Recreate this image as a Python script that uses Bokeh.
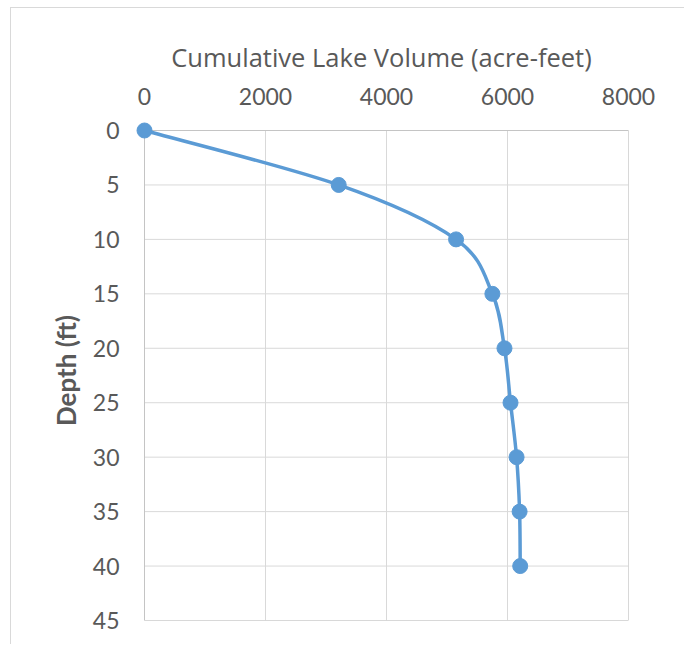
from bokeh.plotting import figure
from bokeh.models import Range1d, FixedTicker
from bokeh.embed import file_html
from bokeh.resources import INLINE

# Cumulative lake volume by depth
depth_ft = [0, 5, 10, 15, 20, 25, 30, 35, 40]
volume_af = [0, 3210, 5150, 5750, 5950, 6050, 6150, 6200, 6210]

x_ticks = [0, 2000, 4000, 6000, 8000]
y_ticks = [0, 5, 10, 15, 20, 25, 30, 35, 40, 45]

TICK_FONT = "Lato"
TITLE_FONT = "Open Sans"
TEXT = "#595959"
GRID = "#d9d9d9"
EDGE = "#c4c4c4"
BLUE = "#5b9bd5"

# The plotting area is 484 x 490 px; a small margin on the left and top lets
# the marker at the origin show in full instead of being cut by the frame.
AREA_W, AREA_H, PAD = 484, 490, 10
x_min, x_max = x_ticks[0], x_ticks[-1]
y_min, y_max = y_ticks[0], y_ticks[-1]
x_pad = (x_max - x_min) * PAD / AREA_W
y_pad = (y_max - y_min) * PAD / AREA_H

p = figure(
    width=674, height=637,
    x_range=Range1d(x_min - x_pad, x_max), y_range=Range1d(y_max, y_min - y_pad),
    x_axis_location="above",
    output_backend="svg", toolbar_location=None,
    min_border_left=133 - PAD, min_border_top=122 - PAD,
    min_border_right=57, min_border_bottom=25,
    margin=(7, 0, 0, 10),
)
p.styles = {"border-top": "1px solid #d9d9d9", "border-left": "1px solid #d9d9d9"}
p.outline_line_color = None
p.xgrid.visible = False
p.ygrid.visible = False

# gridlines and the border of the plotting area
p.segment(x0=x_ticks, y0=[y_min] * len(x_ticks), x1=x_ticks, y1=[y_max] * len(x_ticks),
          line_color=GRID, line_width=1)
p.segment(x0=[x_min] * len(y_ticks), y0=y_ticks, x1=[x_max] * len(y_ticks), y1=y_ticks,
          line_color=GRID, line_width=1)
p.quad(left=[x_min], right=[x_max], top=[y_min], bottom=[y_max],
       fill_color=None, line_color=EDGE, line_width=1)

xa = p.xaxis[0]
ya = p.yaxis[0]
xa.ticker = FixedTicker(ticks=x_ticks)
ya.ticker = FixedTicker(ticks=y_ticks)
xa.axis_label = "Cumulative Lake Volume (acre-feet)"
ya.axis_label = "Depth (ft)"

for ax in (xa, ya):
    ax.axis_line_color = None
    ax.major_tick_line_color = None
    ax.minor_tick_line_color = None
    ax.major_tick_out = 0
    ax.major_tick_in = 0
    ax.major_label_text_font = TICK_FONT
    ax.major_label_text_font_size = "23px"
    ax.major_label_text_color = TEXT
    ax.axis_label_text_color = TEXT

xa.axis_label_text_font = TITLE_FONT
xa.axis_label_text_font_size = "25.5px"
xa.axis_label_text_font_style = "normal"
ya.axis_label_text_font = TICK_FONT
ya.axis_label_text_font_size = "26px"
ya.axis_label_text_font_style = "bold"
xa.major_label_standoff = 16
xa.axis_label_standoff = 11
ya.major_label_standoff = 15
ya.axis_label_standoff = 8

# Smoothed curve through the points (Catmull-Rom as cubic Bezier segments)
n = len(depth_ft)
x0s, y0s, x1s, y1s, c0x, c0y, c1x, c1y = [], [], [], [], [], [], [], []
for i in range(n - 1):
    xp, yp = volume_af[max(i - 1, 0)], depth_ft[max(i - 1, 0)]
    xa0, ya0 = volume_af[i], depth_ft[i]
    xb, yb = volume_af[i + 1], depth_ft[i + 1]
    xn, yn = volume_af[min(i + 2, n - 1)], depth_ft[min(i + 2, n - 1)]
    x0s.append(xa0); y0s.append(ya0)
    x1s.append(xb); y1s.append(yb)
    c0x.append(xa0 + (xb - xp) / 6.0); c0y.append(ya0 + (yb - yp) / 6.0)
    c1x.append(xb - (xn - xa0) / 6.0); c1y.append(yb - (yn - ya0) / 6.0)

p.bezier(x0=x0s, y0=y0s, x1=x1s, y1=y1s, cx0=c0x, cy0=c0y, cx1=c1x, cy1=c1y,
         line_color=BLUE, line_width=3.5)
p.scatter(volume_af, depth_ft, size=15, marker="circle",
          fill_color=BLUE, line_color=BLUE)

open("out.html", "w").write(file_html(p, INLINE))
